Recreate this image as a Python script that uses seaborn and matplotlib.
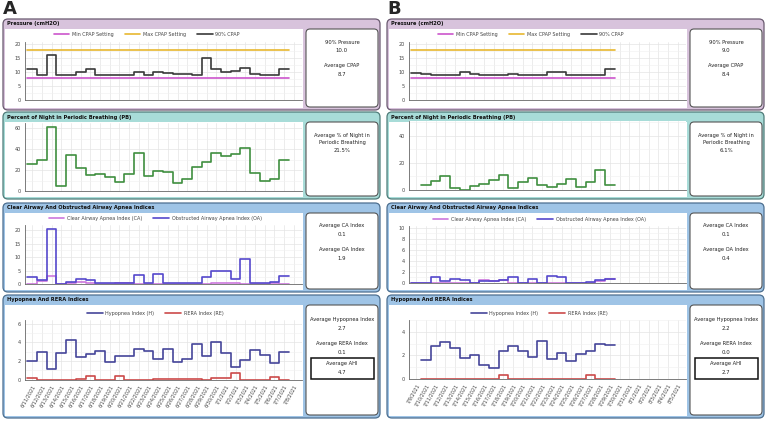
import numpy as np
import pandas as pd
import matplotlib.pyplot as plt
from matplotlib.patches import FancyBboxPatch, Rectangle
from matplotlib.ticker import AutoMinorLocator
import seaborn as sns

sns.set_style('white')
plt.rcParams['font.family'] = ['DejaVu Sans']

W, H = 768, 421
nan = np.nan

dates_a = [f'{d.month}/{d.day}/{d.year}' for d in pd.date_range('2021-06-11', periods=28)]
dates_b = [f'{d.month}/{d.day}/{d.year}' for d in pd.date_range('2021-07-09', periods=28)]

# panel A (6/11 - 7/7)
min_cpap_a, max_cpap_a = 8, 18
cpap90_a = [11, 9, 16, 9, 9, 10, 11, 9, 9, 9, 9, 10, 9, 9.9, 9.7, 9.4, 9.2, 9, 15, 11, 9.9,
            10.5, 11.5, 9.3, 9, 9, 11.2]
pb_a = [26, 30, 61, 5, 34, 22, 15, 16, 13, 8.5, 16, 36.5, 14, 19, 17.7, 8, 11.6, 23, 27.4,
        36.5, 33.5, 35.8, 41, 17, 9.7, 11.3, 29.4]
ca_a = [0, 1.2, 2.9, 0, 0.3, 0.6, 0.3, 0.1, 0.1, 0.2, 0.2, 0.1, 0.1, 0.1, 0.1, 0.1, 0.1, 0.1,
        0.1, 0.2, 0.3, 0.5, 0.1, 0.1, 0.1, 0.5, 0]
oa_a = [2.5, 1.5, 20.4, 0, 0.6, 1.75, 1.4, 0.25, 0.25, 0.5, 0.4, 3.25, 0.5, 3.6, 0.4, 0.2, 0.2,
        0.2, 2.6, 5, 4.8, 1.9, 9.4, 0.4, 0.25, 0.9, 3]
hyp_a = [2.0, 3.0, 1.2, 2.9, 4.25, 2.4, 2.8, 3.1, 1.9, 2.5, 2.5, 3.3, 3.1, 2.2, 3.25, 1.9, 2.2,
         3.85, 2.55, 4.0, 2.85, 1.4, 2.15, 3.15, 2.6, 1.8, 3.0]
rera_a = [0.15, 0, 0, 0, 0, 0.1, 0.35, 0, 0, 0.35, 0, 0, 0, 0.1, 0.1, 0.1, 0.1, 0.1, 0, 0.15,
          0.2, 0.7, 0, 0, 0, 0.25, 0]

# panel B (7/9 - 7/29)
min_cpap_b, max_cpap_b = 8, 18
cpap90_b = [9.7, 9.4, 9, 9, 9, 10, 9.3, 9, 9, 9, 9.3, 9, 9, 9, 10, 10, 9, 9, 9, 9, 11.2]
pb_b = [nan, 3.5, 6.7, 10, 1.7, 0, 3, 4.4, 7.7, 11, 1.2, 6, 9, 3.5, 2, 4.7, 8, 2.2, 6.2, 14.6, 3.7]
ca_b = [0, 0, 0, 0, 0, 0, 0, 0.4, 0.3, 0.4, 0, 0, 0, 0, 0, 0, 0, 0, 0, 0.3, 0.6]
oa_b = [0, 0, 1.0, 0.3, 0.7, 0.5, 0, 0.25, 0.25, 0.4, 1.0, 0, 0.65, 0, 1.15, 1.0, 0, 0, 0.2, 0.5, 0.6]
hyp_b = [nan, 1.6, 2.8, 3.15, 2.6, 1.8, 2.0, 1.2, 0.95, 2.35, 2.8, 2.4, 1.85, 3.25, 1.7, 2.2, 1.5,
         2.15, 2.4, 2.95, 2.85]
rera_b = [nan, 0, 0, 0, 0, 0, 0, 0, 0, 0.37, 0, 0, 0, 0, 0, 0, 0, 0, 0.3, 0, 0]

stats_a = [[('90% Pressure', '10.0'), ('Average CPAP', '8.7')],
           [('Average % of Night in\nPeriodic Breathing', '21.5%')],
           [('Average CA Index', '0.1'), ('Average OA Index', '1.9')],
           [('Average Hypopnea Index', '2.7'), ('Average RERA Index', '0.1')]]
stats_b = [[('90% Pressure', '9.0'), ('Average CPAP', '8.4')],
           [('Average % of Night in\nPeriodic Breathing', '6.1%')],
           [('Average CA Index', '0.1'), ('Average OA Index', '0.4')],
           [('Average Hypopnea Index', '2.2'), ('Average RERA Index', '0.0')]]
ahi_a, ahi_b = '4.7', '2.7'

titles = ['Pressure (cmH2O)', 'Percent of Night in Periodic Breathing (PB)',
          'Clear Airway And Obstructed Airway Apnea Indices', 'Hypopnea And RERA Indices']
sec_fc = ['#d8c3dc', '#a8dcd8', '#9fc4e6', '#9fc4e6']
sec_ec = ['#6a5a70', '#4f7c79', '#4d6f90', '#4d6f90']
# outer box rows (top, bottom) in pixels
rows = [(19, 110), (112, 199), (203, 292), (295, 418)]

fig = plt.figure(figsize=(7.68, 4.21), dpi=100)
bg = fig.add_axes([0, 0, 1, 1])
bg.set_xlim(0, W)
bg.set_ylim(H, 0)
bg.axis('off')


def rbox(x0, y0, x1, y1, fc, ec, r=4, lw=0.8):
    bg.add_patch(FancyBboxPatch((x0, y0), x1 - x0, y1 - y0,
                                boxstyle=f'round,pad=0,rounding_size={r}', fc=fc, ec=ec, lw=lw))


def chart(x0, y0, x1, y1):
    return fig.add_axes([x0 / W, 1 - y1 / H, (x1 - x0) / W, (y1 - y0) / H])


def steps(ax, vals, color, label=None, lw=1.2):
    v = np.asarray(vals, dtype=float)
    day = np.arange(len(v))[~np.isnan(v)]
    v = v[~np.isnan(v)]
    xs = np.append(day - 0.5, day[-1] + 0.5)
    ys = np.append(v, v[-1])
    sns.lineplot(x=xs, y=ys, ax=ax, drawstyle='steps-post', color=color, lw=lw,
                 label=label, legend=False)


def style(ax, ymax, yticks, labels=None):
    ax.set_xlim(-0.75, 27.85)
    ax.set_ylim(0, ymax)
    ax.set_xticks(range(28))
    ax.set_yticks(yticks)
    ax.yaxis.set_minor_locator(AutoMinorLocator(2))
    ax.grid(True, color='#e4e4e4', lw=0.5)
    ax.grid(True, which='minor', axis='y', color='#f0f0f0', lw=0.4)
    ax.set_axisbelow(True)
    for s in ['top', 'right']:
        ax.spines[s].set_visible(False)
    for s in ['left', 'bottom']:
        ax.spines[s].set_color('#666')
        ax.spines[s].set_linewidth(0.6)
    ax.tick_params(length=2, width=0.5, color='#666', labelsize=3.5, labelcolor='#444', pad=1)
    ax.tick_params(which='minor', length=1.2, width=0.4, color='#666')
    if labels:
        ax.set_xticklabels(labels, rotation=60, ha='right', rotation_mode='anchor')
    else:
        ax.set_xticklabels([])
    ax.set_xlabel('')
    ax.set_ylabel('')


def legend(ax, ncol, anchor=0.46):
    ax.legend(loc='lower center', bbox_to_anchor=(anchor, 1.0), ncol=ncol, frameon=False,
              fontsize=3.5, handlelength=3.2, columnspacing=2.2, handletextpad=0.6,
              borderaxespad=0.5, labelcolor='#444')


def panel(ox, tag, cpap90, mn, mx, pb, ca, oa, hyp, rera, stats, ahi, lims):
    bg.text(ox + 3, 9, tag, fontsize=13, fontweight='bold', va='center', ha='left')
    for i, (t, b) in enumerate(rows):
        rbox(ox + 3, t, ox + 380, b, sec_fc[i], sec_ec[i], r=5, lw=0.9)
        bg.text(ox + 7, t + 5, titles[i], fontsize=3.7, fontweight='bold', va='center', color='#111')
        bg.add_patch(Rectangle((ox + 5, t + 10), 298, b - t - 12, fc='white', ec='none'))
        rbox(ox + 306, t + 10, ox + 378, b - 3, 'white', '#555', r=4, lw=0.8)
        cx = ox + 342
        n = len(stats[i])
        if i == 3:
            ys = [t + 24, t + 49]
        elif n == 2:
            ys = [t + 23, t + 47]
        else:
            ys = [t + 27]
        for (lab, val), y in zip(stats[i], ys):
            if '\n' in lab:
                bg.text(cx, y, lab, fontsize=3.7, ha='center', va='center', color='#222',
                        linespacing=1.4)
                bg.text(cx, y + 12, val, fontsize=3.9, ha='center', va='center', color='#222')
            else:
                bg.text(cx, y, lab, fontsize=3.7, ha='center', va='center', color='#222')
                bg.text(cx, y + 9, val, fontsize=3.9, ha='center', va='center', color='#222')
    # AHI box
    bg.add_patch(Rectangle((ox + 311, 358), 63, 21, fc='white', ec='#111', lw=1.1))
    bg.text(ox + 342, 364, 'Average AHI', fontsize=3.7, ha='center', va='center', color='#222')
    bg.text(ox + 342, 373, ahi, fontsize=3.9, ha='center', va='center', color='#222')

    n = len(cpap90)
    ax = chart(ox + 25, lims[0][0], ox + 302, lims[0][1])
    steps(ax, np.full(n, mn), '#cc55cc', 'Min CPAP Setting')
    steps(ax, np.full(n, mx), '#e8b830', 'Max CPAP Setting')
    steps(ax, cpap90, '#3a3a3a', '90% CPAP')
    style(ax, 21, [0, 5, 10, 15, 20])
    legend(ax, 3, 0.44)

    ax = chart(ox + 25, lims[1][0], ox + 302, lims[1][1])
    steps(ax, pb, '#3f8f3f')
    style(ax, lims[1][2], lims[1][3])

    ax = chart(ox + 25, lims[2][0], ox + 302, lims[2][1])
    steps(ax, ca, '#cc77dd', 'Clear Airway Apnea Index (CA)')
    steps(ax, oa, '#5548cc', 'Obstructed Airway Apnea Index (OA)')
    style(ax, lims[2][2], lims[2][3])
    legend(ax, 2, 0.47)

    ax = chart(ox + 25, lims[3][0], ox + 302, lims[3][1])
    steps(ax, hyp, '#45459a', 'Hypopnea Index (H)')
    steps(ax, rera, '#cc4a4a', 'RERA Index (RE)')
    style(ax, lims[3][2], lims[3][3], labels=lims[3][4])
    legend(ax, 2, 0.47)


panel(0, 'A', cpap90_a, min_cpap_a, max_cpap_a, pb_a, ca_a, oa_a, hyp_a, rera_a, stats_a, ahi_a,
      [(41.5, 99.7), (123, 191, 65, [0, 20, 40, 60]), (225, 284, 22, [0, 5, 10, 15, 20]),
       (320, 379.7, 6.4, [0, 2, 4, 6], dates_a)])
panel(384, 'B', cpap90_b, min_cpap_b, max_cpap_b, pb_b, ca_b, oa_b, hyp_b, rera_b, stats_b, ahi_b,
      [(41.5, 99.7), (121, 190, 51, [0, 20, 40]), (226, 282.7, 10.3, [0, 2, 4, 6, 8, 10]),
       (320, 379, 5.0, [0, 2, 4], dates_b)])

fig.savefig('out.png', dpi=100)
